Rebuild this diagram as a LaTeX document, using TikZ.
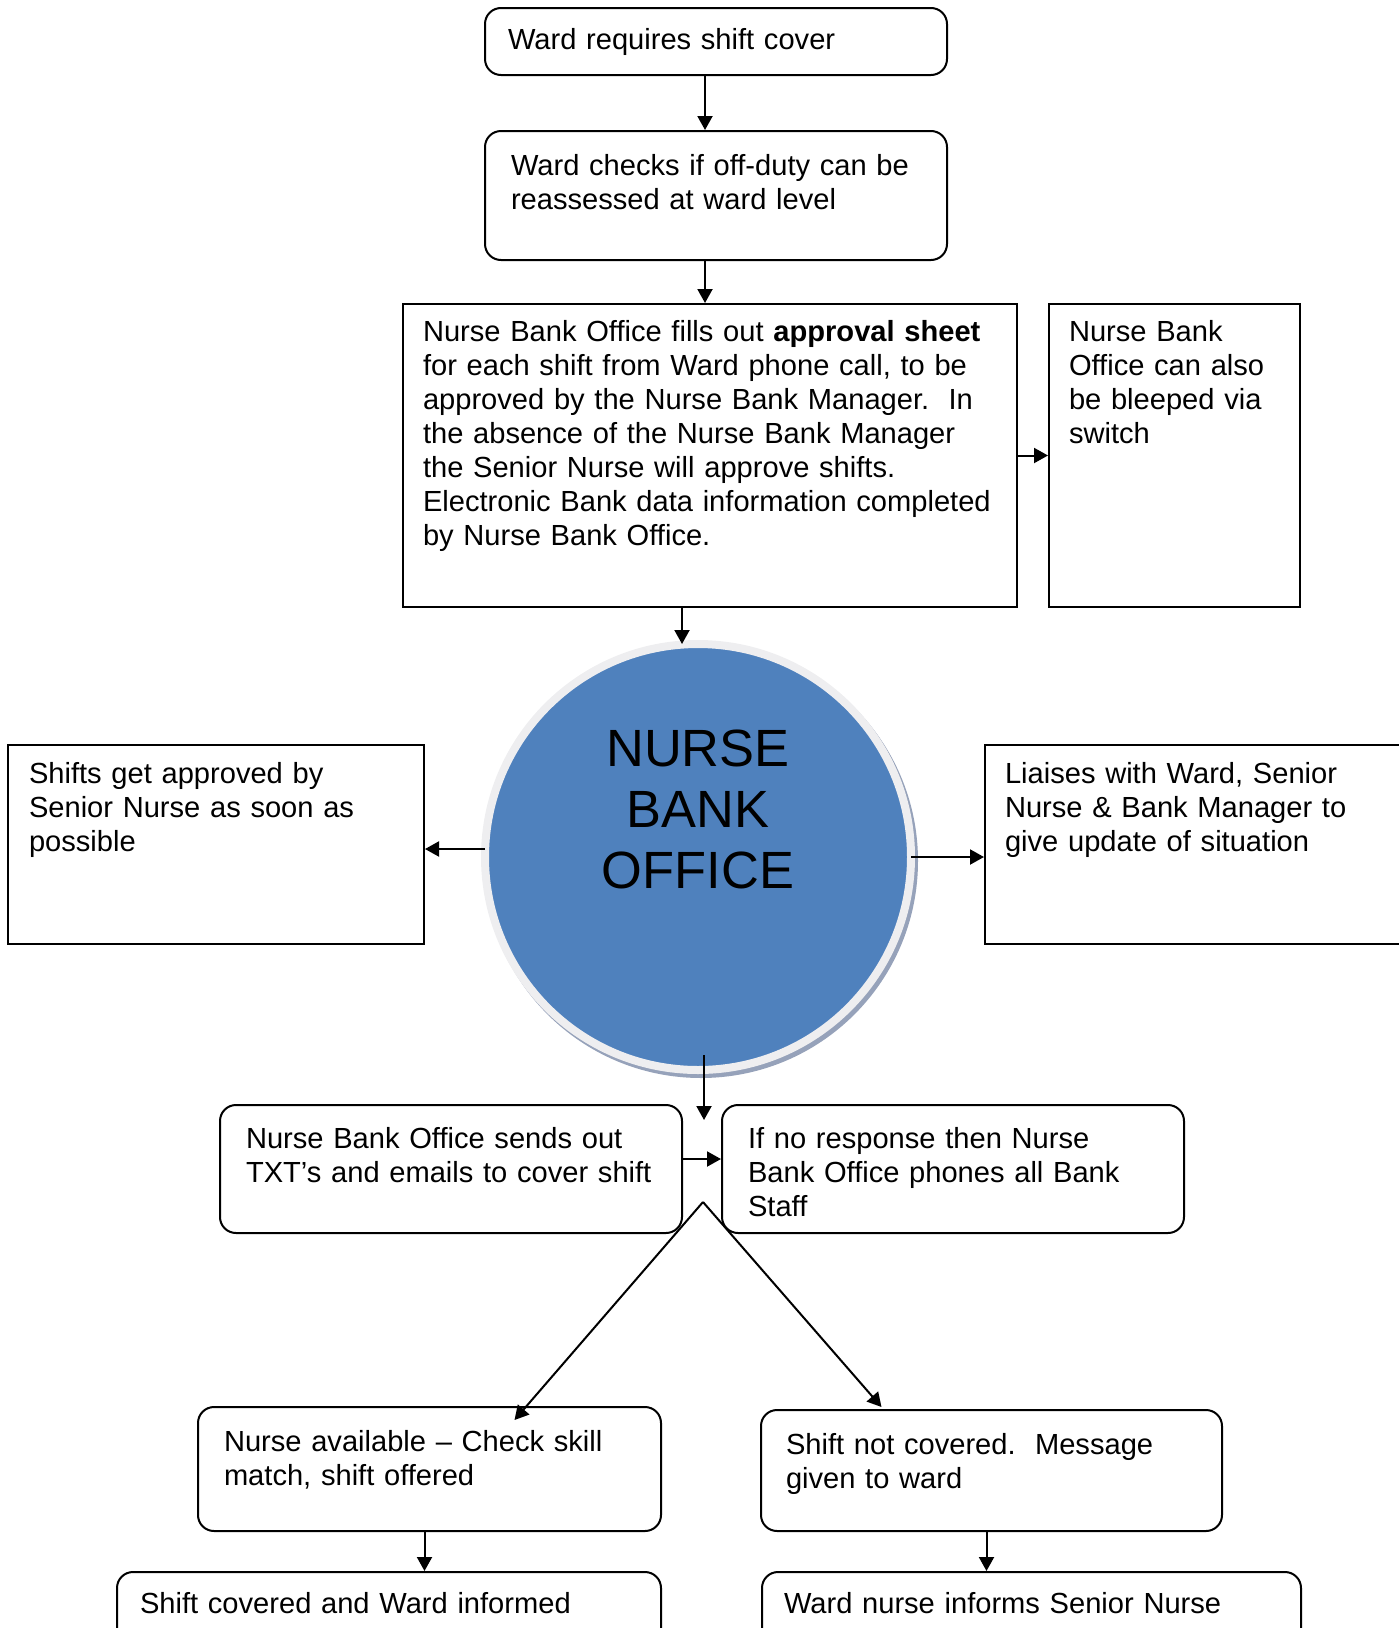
\documentclass[tikz,border=0pt]{standalone}
\usepackage{fontspec}
\setmainfont{Liberation Sans}
\usepackage{tikz}
\usetikzlibrary{arrows.meta, calc, backgrounds}
\definecolor{nbblue}{RGB}{79, 129, 189}
\definecolor{nbring}{RGB}{238, 238, 240}
\definecolor{nbshade}{RGB}{150, 162, 186}

\begin{document}
\begin{tikzpicture}[
    x=1pt, y=-1pt,
    font=\fontsize{29.1}{34}\selectfont,
    box/.style={draw, line width=2pt, align=left, anchor=north west,
                inner ysep=0pt},
    rbox/.style={box, rounded corners=16pt},
    sbox/.style={box},
    dims/.style n args={4}{inner xsep=#1, text width=#2,
                           text height=#3, text depth=#4},
    hub/.style={circle, fill=nbblue, draw=nbring, line width=8pt,
                minimum size=426pt, inner sep=0pt, outer sep=0pt,
                align=center, font=\fontsize{52.4}{61}\selectfont,
                text height=159.5pt, text depth=97.5pt},
    arr/.style={-{Triangle[length=14pt, width=15pt]}, line width=2pt}
]
\useasboundingbox (0,0) rectangle (1399,1628);
\clip (0,0) rectangle (1399,1628);

\node[rbox, dims={23pt}{416pt}{41pt}{26pt}] (ward) at (484,7)
    {Ward requires shift cover};
\node[rbox, dims={26pt}{410pt}{44pt}{85pt}] (check) at (484,130)
    {Ward checks if off-duty can be\\reassessed at ward level};
\node[sbox, dims={20pt}{574pt}{37pt}{266pt}] (approve) at (402,303)
    {Nurse Bank Office fills out \textbf{approval sheet}\\
     for each shift from Ward phone call, to be\\
     approved by the Nurse Bank Manager.\ \ In\\
     the absence of the Nurse Bank Manager\\
     the Senior Nurse will approve shifts.\\
     Electronic Bank data information completed\\
     by Nurse Bank Office.};
\node[sbox, dims={20pt}{211pt}{37pt}{266pt}] (bleep) at (1048,303)
    {Nurse Bank\\Office can also\\be bleeped via\\switch};

\node[hub] (nbo) at (698,857) {NURSE\\BANK\\OFFICE};
\begin{scope}[on background layer]
  \fill[nbshade] ([shift={(3pt,-4pt)}]nbo.center) circle (217pt);
\end{scope}

\node[sbox, dims={21pt}{374pt}{38pt}{161pt}] (shifts) at (7,744)
    {Shifts get approved by\\Senior Nurse as soon as\\possible};
\node[sbox, dims={20pt}{400pt}{38pt}{161pt}] (liaise) at (984,744)
    {Liaises with Ward, Senior\\Nurse \& Bank Manager to\\give update of situation};

\node[rbox, dims={26pt}{410pt}{43pt}{85pt}] (txt) at (219,1104)
    {Nurse Bank Office sends out\\TXT’s and emails to cover shift};
\node[rbox, dims={26pt}{410pt}{43pt}{85pt}] (ifno) at (721,1104)
    {If no response then Nurse\\Bank Office phones all Bank\\Staff};
\coordinate (split) at (703,1202);

\node[rbox, dims={26pt}{411pt}{44pt}{80pt}] (avail) at (197,1406)
    {Nurse available – Check skill\\match, shift offered};
\node[rbox, dims={25pt}{411pt}{44pt}{77pt}] (notcov) at (760,1409)
    {Shift not covered.\ \ Message\\given to ward};
\node[rbox, dims={23pt}{498pt}{41pt}{60pt}] (covered) at (116,1571)
    {Shift covered and Ward informed};
\node[rbox, dims={22pt}{495pt}{41pt}{60pt}] (wnurse) at (761,1571)
    {Ward nurse informs Senior Nurse};

% Arrows
\draw[arr] ([xshift=-11pt]ward.south)  -- ([xshift=-11pt]check.north);
\draw[arr] ([xshift=-11pt]check.south) -- ([xshift=-11pt]check.south |- approve.north);
\draw[arr] (approve.east) -- (bleep.west);
\draw[arr] ([xshift=-28pt]approve.south) -- ([xshift=-28pt]approve.south |- nbo.north);
\draw[arr] ([yshift=8pt]nbo.west) -- ([yshift=8pt]nbo.west -| shifts.east);
\draw[arr] (nbo.east) -- (nbo.east -| liaise.west);
\draw[arr] ([shift={(6pt,15pt)}]nbo.south) -- ([shift={(6pt,-50pt)}]nbo.south);
\draw[arr] ([yshift=10pt]txt.east) -- ([yshift=10pt]ifno.west);
\draw[arr] (split) -- ([shift={(85pt,-14pt)}]avail.north);
\draw[arr] (split) -- ([shift={(-110pt,2pt)}]notcov.north);
\draw[arr] ([xshift=-5pt]avail.south)  -- ([xshift=-5pt]avail.south |- covered.north);
\draw[arr] ([xshift=-5pt]notcov.south) -- ([xshift=-5pt]notcov.south |- wnurse.north);

\end{tikzpicture}
\end{document}
